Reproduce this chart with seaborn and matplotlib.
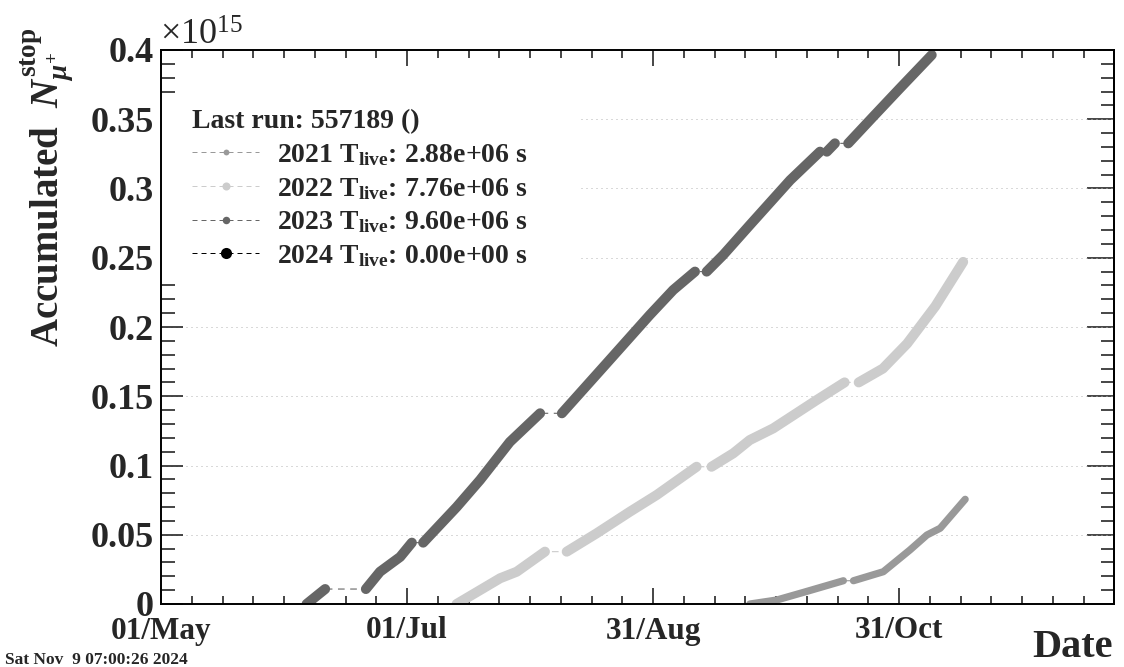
import numpy as np
import pandas as pd
import matplotlib
matplotlib.use("Agg")
import matplotlib.pyplot as plt
from matplotlib.lines import Line2D
from matplotlib.patches import Rectangle
from matplotlib.ticker import FuncFormatter, MultipleLocator
import seaborn as sns

# ---------------- data ----------------
# x: days after 01/May (all years folded onto one calendar), y: accumulated N_stop in units of 1e15
BASE_DATE = "2024-05-01"
YEARS = [2021, 2022, 2023, 2024]
TLIVE_S = [2.88e6, 7.76e6, 9.60e6, 0.0]
LAST_RUN = 557189

DAYS_2021 = [146.0, 152.7, 159.3, 169.2, 171.7, 179.1, 185.7, 189.9, 193.2, 199.4]
NSTOP_2021 = [0.0, 0.0029, 0.0084, 0.0168, 0.0168, 0.0233, 0.039, 0.0498, 0.0547, 0.0756]
SEG_2021 = [0, 0, 0, 0, 1, 1, 1, 1, 1, 1]

DAYS_2022 = [73.3, 84.1, 88.2, 95.2, 100.6, 108.0, 116.3, 122.9, 132.8,
             136.5, 141.9, 146.0, 151.8, 162.6, 169.5, 173.0, 179.0, 185.0, 192.0, 198.9]
NSTOP_2022 = [0.0, 0.0186, 0.0233, 0.0378, 0.0378, 0.051, 0.0667, 0.0787, 0.0991,
              0.0991, 0.1088, 0.1184, 0.1268, 0.1473, 0.160, 0.160, 0.170, 0.188, 0.215, 0.247]
SEG_2022 = [0, 0, 0, 0, 1, 1, 1, 1, 1, 2, 2, 2, 2, 2, 2, 3, 3, 3, 3, 3]

DAYS_2023 = [36.1, 40.7, 50.8, 54.3, 59.3, 62.2, 65.0, 73.3, 79.1, 86.5, 94.0,
             99.4, 110.5, 121.2, 127.0, 132.4, 135.3, 139.4, 146.0, 156.0, 163.4,
             165.1, 167.1, 170.4, 176.6, 183.2, 191.1]
NSTOP_2023 = [0.0, 0.0108, 0.0108, 0.0233, 0.034, 0.0443, 0.0443, 0.070, 0.0895, 0.117, 0.1377,
              0.1377, 0.1738, 0.2087, 0.2267, 0.24, 0.24, 0.252, 0.2736, 0.306, 0.3266,
              0.3266, 0.3326, 0.3326, 0.3519, 0.3723, 0.3964]
SEG_2023 = [0, 0, 1, 1, 1, 1, 2, 2, 2, 2, 2, 3, 3, 3, 3, 3, 4, 4, 4, 4, 4, 5, 5, 6, 6, 6, 6]

DAYS_2024 = []
NSTOP_2024 = []
SEG_2024 = []

DATE_TICKS = ["2024-05-01", "2024-07-01", "2024-08-31", "2024-10-31"]
DATE_TICK_LABELS = ["01/May", "01/Jul", "31/Aug", "31/Oct"]
X_SPAN_DAYS = 236.3
Y_MAX = 0.4

COLORS = {2021: "#999999", 2022: "#cccccc", 2023: "#666666", 2024: "#000000"}
THICK = {2021: 5.2, 2022: 7.2, 2023: 7.2, 2024: 7.2}
LEG_MS = {2021: 4.2, 2022: 5.8, 2023: 5.4, 2024: 8.0}

# ---------------- style ----------------
sns.set_style("ticks")
plt.rcParams.update({
    "font.family": ["Liberation Serif", "DejaVu Serif"],
    "font.weight": "bold",
    "mathtext.fontset": "custom",
    "mathtext.rm": "Liberation Serif:bold",
    "mathtext.it": "Liberation Serif:italic:bold",
    "mathtext.bf": "Liberation Serif:bold",
    "axes.linewidth": 1.4,
    "axes.edgecolor": "black",
})

W, H = 1124, 667
fig = plt.figure(figsize=(W / 100, H / 100), dpi=100)
L, R, T, B = 161, 1114, 50, 604
ax = fig.add_axes([L / W, 1 - B / H, (R - L) / W, (B - T) / H])

base = pd.Timestamp(BASE_DATE)
series = {
    2021: (DAYS_2021, NSTOP_2021, SEG_2021),
    2022: (DAYS_2022, NSTOP_2022, SEG_2022),
    2023: (DAYS_2023, NSTOP_2023, SEG_2023),
    2024: (DAYS_2024, NSTOP_2024, SEG_2024),
}
for yr, (days, vals, segs) in series.items():
    if len(days) == 0:
        continue
    df = pd.DataFrame({
        "date": base + pd.to_timedelta(np.asarray(days, dtype=float), unit="D"),
        "nstop": vals,
        "seg": [f"{yr}-{s}" for s in segs],
    })
    # thin dashed connector through all runs
    sns.lineplot(data=df, x="date", y="nstop", color=COLORS[yr], lw=0.8,
                 linestyle=(0, (6, 5)), estimator=None, sort=False, ax=ax, legend=False)
    # thick continuous stretches
    sns.lineplot(data=df, x="date", y="nstop", units="seg", color=COLORS[yr],
                 lw=THICK[yr], solid_capstyle="round", solid_joinstyle="round",
                 estimator=None, sort=False, ax=ax, legend=False)

ax.set_xlabel("")
ax.set_ylabel("")
ax.set_xlim(base, base + pd.Timedelta(days=X_SPAN_DAYS))
ax.set_ylim(0, Y_MAX)

# x ticks
ax.set_xticks(pd.to_datetime(DATE_TICKS))
ax.set_xticklabels(DATE_TICK_LABELS)
minor = [base + pd.Timedelta(days=k * 61 / 8) for k in range(int(X_SPAN_DAYS / (61 / 8)) + 1)]
ax.set_xticks(minor, minor=True)
ax.tick_params(axis="x", which="major", direction="in", top=True, bottom=True,
               length=11.5, width=1.2, labelsize=22.5, pad=9)
ax.tick_params(axis="x", which="minor", direction="in", top=True, bottom=True,
               length=5.8, width=1.2)

# y ticks
ax.yaxis.set_major_locator(MultipleLocator(0.05))
ax.yaxis.set_minor_locator(MultipleLocator(0.01))
ax.yaxis.set_major_formatter(FuncFormatter(lambda v, p: f"{v:g}"))
ax.tick_params(axis="y", which="major", direction="in", left=True, right=False,
               length=15.8, width=1.2, labelsize=26, pad=5)
ax.tick_params(axis="y", which="minor", direction="in", left=True, right=False,
               length=10, width=1.2)
sec = ax.secondary_yaxis("right")
sec.yaxis.set_major_locator(MultipleLocator(0.05))
sec.yaxis.set_minor_locator(MultipleLocator(0.01))
sec.tick_params(axis="y", which="major", direction="in", length=19.4, width=1.2, labelright=False)
sec.tick_params(axis="y", which="minor", direction="in", length=9.4, width=1.2)

ax.yaxis.grid(True, which="major", linestyle=(0, (1, 4)), linewidth=0.72, color="#b4b4b4")
ax.set_axisbelow(True)

# white legend pad hiding the grid behind the legend
ax.add_patch(Rectangle((L / W, 1 - 276 / H), (578 - L) / W, (276 - 94) / H,
                       transform=fig.transFigure, facecolor="white", edgecolor="none",
                       zorder=1))

# legend
handles, labels = [], []
for yr, t in zip(YEARS, TLIVE_S):
    handles.append(Line2D([0], [0], color=COLORS[yr], lw=0.72, linestyle=(0, (5, 4)),
                          marker="o", ms=LEG_MS[yr], markeredgewidth=0))
    labels.append(f"{yr} T$_{{\\mathrm{{live}}}}$: {t:.2e} s")
leg = ax.legend(handles, labels, title=f"Last run: {LAST_RUN} ()", loc="upper left",
                bbox_to_anchor=(184 / W, 1 - 101 / H), bbox_transform=fig.transFigure,
                fontsize=20, title_fontsize=20, frameon=False,
                borderpad=0.3, handlelength=2.4, handletextpad=0.65, labelspacing=0.28,
                borderaxespad=0, alignment="left")
leg.get_title().set_fontweight("bold")

# texts
fig.text(47 / W, 1 - 27 / H, r"Accumulated  $N^{\mathrm{stop}}_{\mu^{+}}$", rotation=90,
         ha="center", va="top", fontsize=28)
fig.text(160 / W, 1 - 45 / H, r"$\mathregular{\times10^{15}}$", fontsize=26,
         fontweight="normal", ha="left", va="baseline")
fig.text(1113 / W, 1 - 657 / H, "Date", ha="right", va="baseline", fontsize=29)
fig.text(5 / W, 1 - 664 / H, "Sat Nov  9 07:00:26 2024", ha="left", va="baseline", fontsize=12.5)

fig.savefig("out.png", dpi=100)
